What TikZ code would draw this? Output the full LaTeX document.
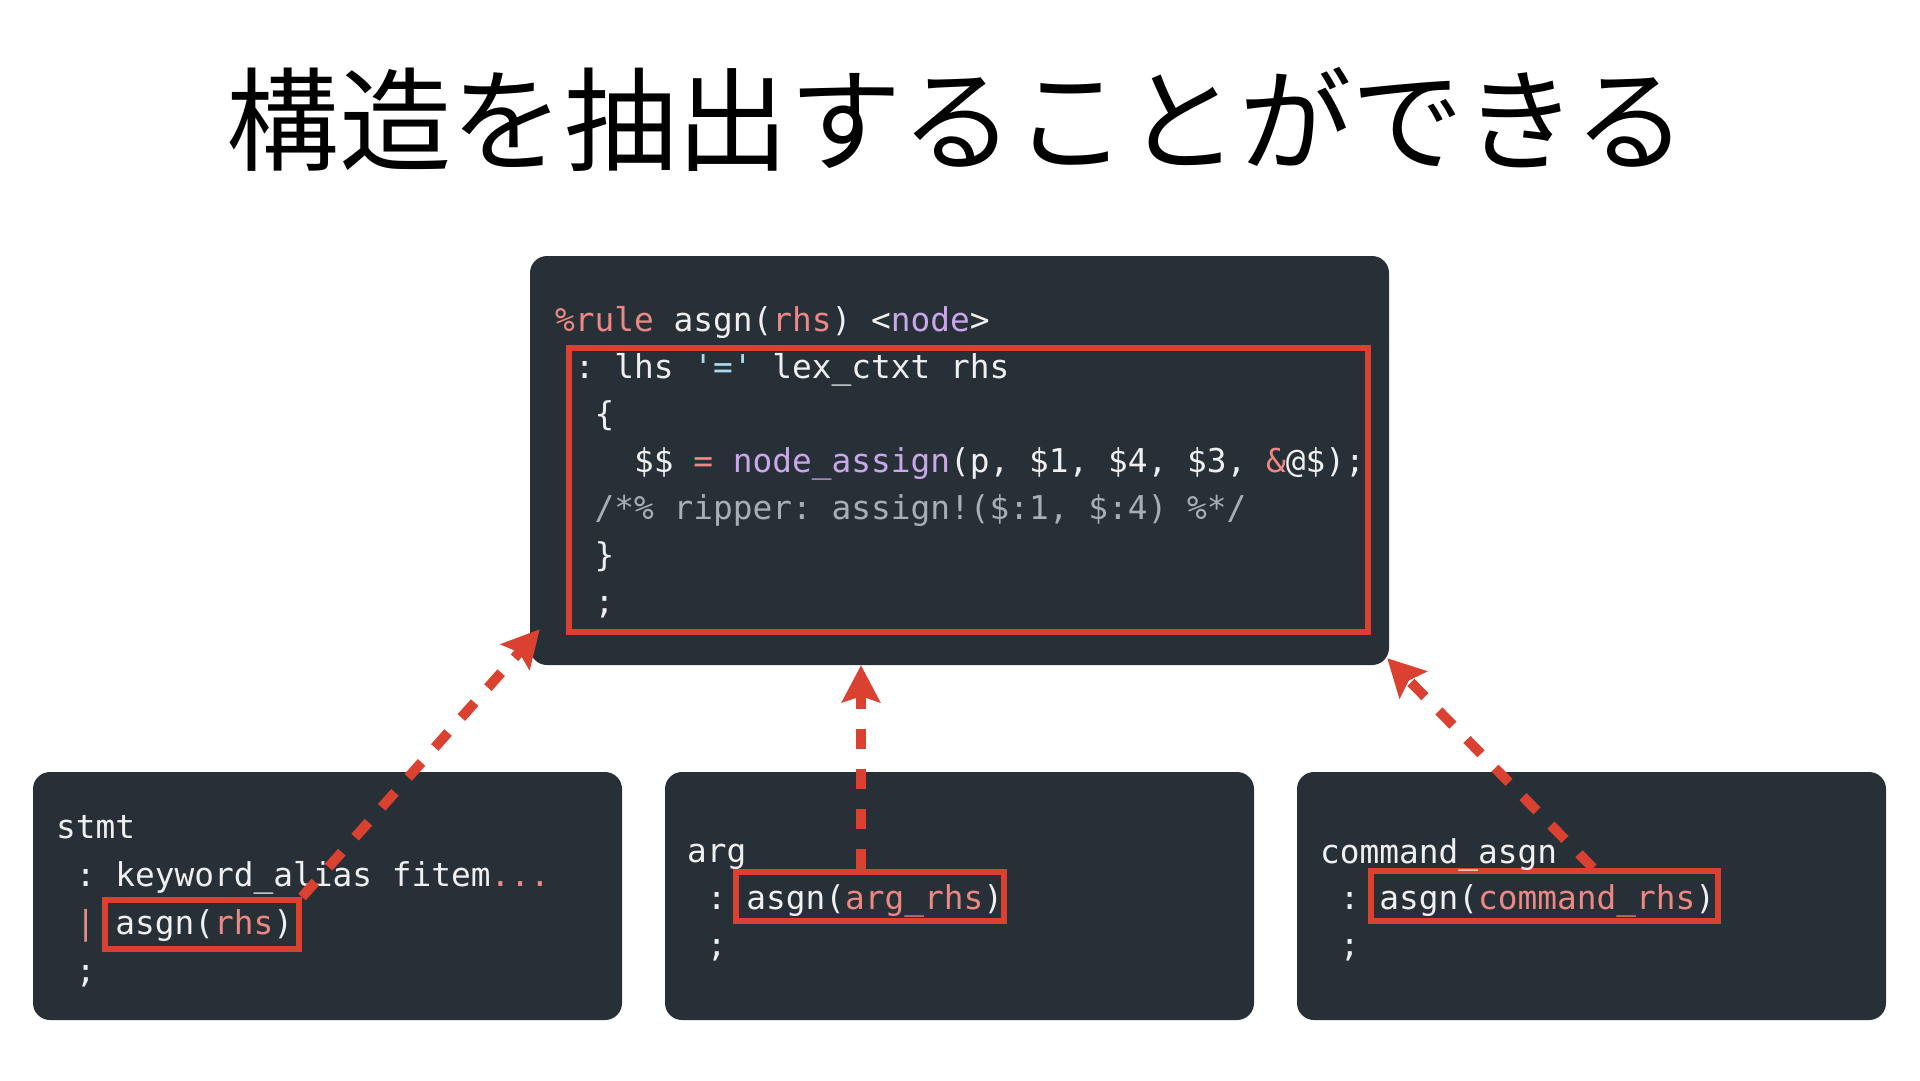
\documentclass[tikz,border=0pt]{standalone}
\usepackage{fontspec}
\setmonofont{DejaVu Sans Mono}
\newfontfamily\jpfont{Noto Sans CJK JP}
\usetikzlibrary{arrows.meta,calc}
\definecolor{boxbg}{HTML}{283037}
\definecolor{hlred}{HTML}{DB4130}
\definecolor{ctext}{HTML}{F0F0F0}
\definecolor{csalmon}{HTML}{EE8884}
\definecolor{clav}{HTML}{C9A7EA}
\definecolor{ccyan}{HTML}{A8DAEE}
\definecolor{cgrey}{HTML}{A7AFB6}
\newcommand\codefont{\ttfamily\fontsize{32.8}{40}\selectfont\frenchspacing}
\newcommand\codeS[1]{\textcolor{csalmon}{#1}}
\newcommand\codeL[1]{\textcolor{clav}{#1}}
\newcommand\codeC[1]{\textcolor{ccyan}{#1}}
\newcommand\codeG[1]{\textcolor{cgrey}{#1}}
\begin{document}
\begin{tikzpicture}[x=1pt,y=-1pt,
  darkbox/.style={fill=boxbg, draw=none, rounded corners=17pt, inner sep=0pt},
  hlbox/.style={draw=hlred, line width=6pt, inner sep=0pt, fill=none},
  codeline/.style={anchor=base west, inner sep=0pt, font=\codefont, text=ctext},
  dasharrow/.style={draw=hlred, line width=10pt, dash pattern=on 20pt off 20pt,
    -{Stealth[length=37pt, width=38pt, inset=6pt]}}
]
\useasboundingbox (0,0) rectangle (1920,1080);
\fill[white] (0,0) rectangle (1920,1080);

% title
\node[inner sep=0pt, font=\jpfont\fontsize{112.5}{130}\selectfont] (title) at (957,119) {構造を抽出することができる};

% boxes
\node[darkbox, minimum width=859pt, minimum height=409pt] (main) at (959.5,460.5) {};
\node[darkbox, minimum width=589pt, minimum height=248pt] (boxL) at (327.5,896) {};
\node[darkbox, minimum width=589pt, minimum height=248pt] (boxM) at (959.5,896) {};
\node[darkbox, minimum width=589pt, minimum height=248pt] (boxR) at (1591.5,896) {};

% highlight rectangles
\node[hlbox, minimum width=799pt, minimum height=284pt] (rMain) at (968.5,490) {};
\node[hlbox, minimum width=194pt, minimum height=49pt] (rL) at (202,924.5) {};
\node[hlbox, minimum width=268pt, minimum height=49pt] (rM) at (870,896.5) {};
\node[hlbox, minimum width=347pt, minimum height=50pt] (rR) at (1544.5,896) {};

% main code
\node[codeline] (m1) at (555,331) {\codeS{\%rule} asgn(\codeS{rhs}) <\codeL{node}>};
\node[codeline] (m2) at (574.75,378) {: lhs \codeC{'='} lex\_ctxt rhs};
\node[codeline] (m3) at (594.5,425) {\{};
\node[codeline] (m4) at (634,472) {\$\$ \codeS{=} \codeL{node\_assign}(p, \$1, \$4, \$3, \codeS{\&}@\$);};
\node[codeline] (m5) at (594.5,519) {\codeG{/*\% ripper: assign!(\$:1, \$:4) \%*/}};
\node[codeline] (m6) at (594.5,566) {\}};
\node[codeline] (m7) at (594.5,613) {;};

% left box code
\node[codeline] (l1) at (56,838) {stmt};
\node[codeline] (l2) at (75.75,886) {: keyword\_alias fitem\codeS{...}};
\node[codeline] (l3) at (75.75,934) {\codeS{|} asgn(\codeS{rhs})};
\node[codeline] (l4) at (75.75,982) {;};

% middle box code
\node[codeline] (c1) at (687,862) {arg};
\node[codeline] (c2) at (706.75,909) {: asgn(\codeS{arg\_rhs})};
\node[codeline] (c3) at (706.75,956) {;};

% right box code
\node[codeline] (r1) at (1320,863) {command\_asgn};
\node[codeline] (r2) at (1339.75,909) {: asgn(\codeS{command\_rhs})};
\node[codeline] (r3) at (1339.75,956) {;};

% arrows
\coordinate (tipL) at ($(main.south west)+(10,-36)$);
\coordinate (tipM) at ($(main.south)+(-98.5,0)$);
\coordinate (tipR) at ($(main.south east)+(-2,-7)$);
\coordinate (startR) at ($(rR.north)+(48.5,0)$);
\draw[dasharrow] (rL.north east) -- (tipL);
\draw[dasharrow] (rM.north -| tipM) -- (tipM);
\draw[dasharrow] (startR) -- (tipR);
\end{tikzpicture}
\end{document}
